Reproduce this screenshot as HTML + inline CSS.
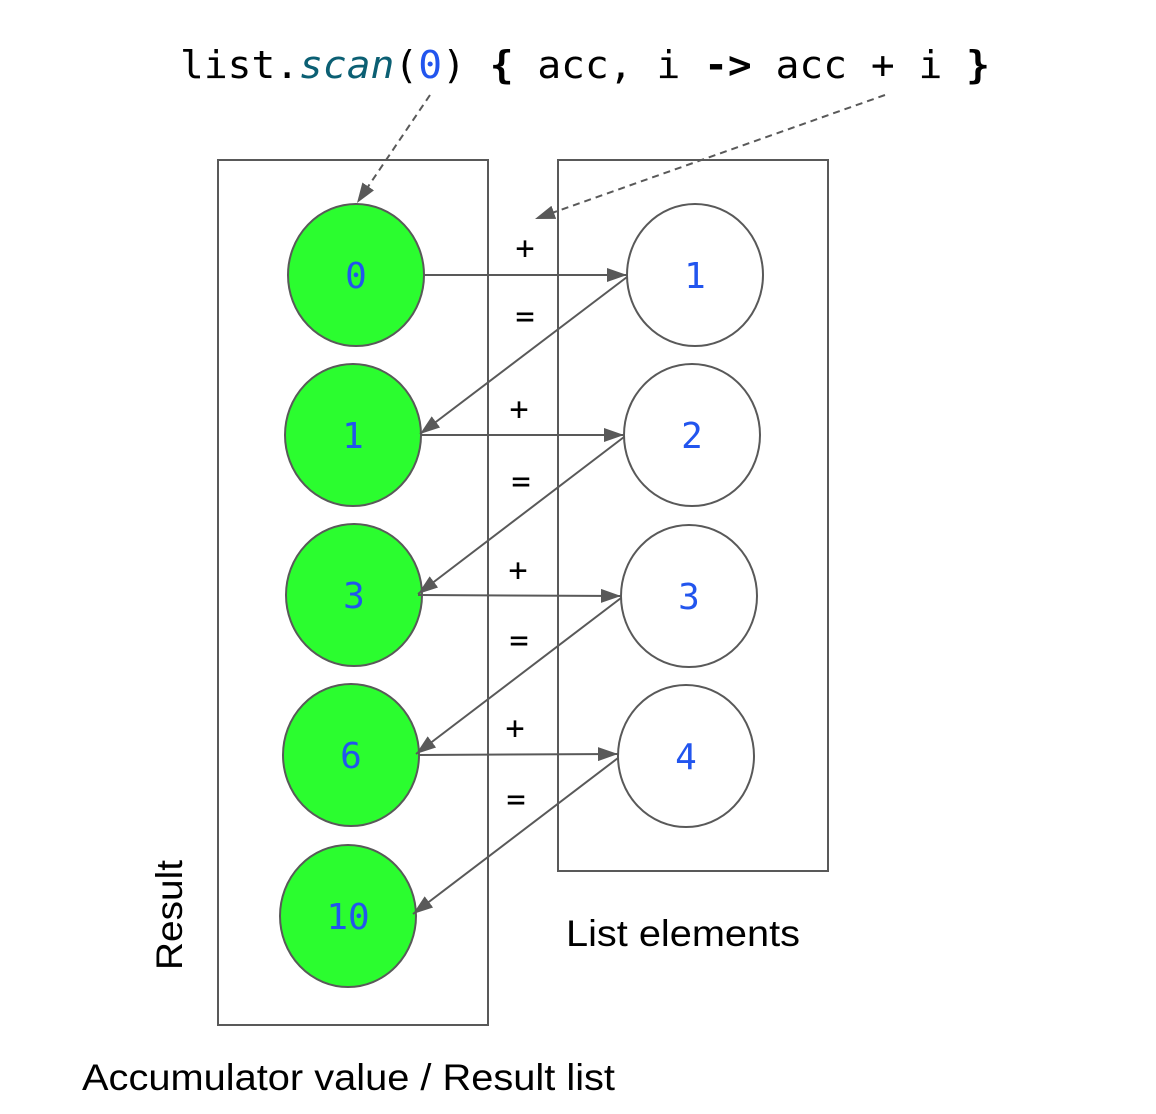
<!DOCTYPE html>
<html><head><meta charset="utf-8"><style>html,body{margin:0;padding:0;background:#fff}svg{display:block}</style></head>
<body>
<svg width="1156" height="1114" viewBox="0 0 1156 1114" xmlns="http://www.w3.org/2000/svg">
<defs>
<marker id="b" markerWidth="20" markerHeight="14" refX="20" refY="7" orient="auto" markerUnits="userSpaceOnUse" viewBox="0 0 20 14">
<path d="M0,0 L20,7 L0,14 z" fill="#595959"/>
</marker>
</defs>
<text x="180" y="78" font-family="DejaVu Sans Mono, monospace" font-size="38" textLength="810" lengthAdjust="spacingAndGlyphs" fill="#000">list.<tspan fill="#0b5f73" font-style="italic">scan</tspan>(<tspan fill="#2255ee">0</tspan>) <tspan font-weight="bold">{</tspan> acc, i <tspan font-weight="bold">-&gt;</tspan> acc + i <tspan font-weight="bold">}</tspan></text>
<rect x="218" y="160" width="270" height="865" fill="none" stroke="#595959" stroke-width="2"/>
<rect x="558" y="160" width="270" height="711" fill="none" stroke="#595959" stroke-width="2"/>
<g fill="#2bfd2f" stroke="#595959" stroke-width="2">
<ellipse cx="356" cy="275" rx="68" ry="71"/>
<ellipse cx="353" cy="435" rx="68" ry="71"/>
<ellipse cx="354" cy="595" rx="68" ry="71"/>
<ellipse cx="351" cy="755" rx="68" ry="71"/>
<ellipse cx="348" cy="916" rx="68" ry="71"/>
</g>
<g fill="#fff" stroke="#595959" stroke-width="2">
<ellipse cx="695" cy="275" rx="68" ry="71"/>
<ellipse cx="692" cy="435" rx="68" ry="71"/>
<ellipse cx="689" cy="596" rx="68" ry="71"/>
<ellipse cx="686" cy="756" rx="68" ry="71"/>
</g>
<g font-family="DejaVu Sans Mono, monospace" font-size="36" fill="#2255ee" text-anchor="middle">
<text x="356" y="288">0</text>
<text x="353" y="448">1</text>
<text x="354" y="608">3</text>
<text x="351" y="768">6</text>
<text x="348" y="929">10</text>
<text x="695" y="288">1</text>
<text x="692" y="448">2</text>
<text x="689" y="609">3</text>
<text x="686" y="769">4</text>
</g>
<g stroke="#595959" stroke-width="2" fill="none" marker-end="url(#b)">
<line x1="424" y1="275" x2="627" y2="275"/>
<line x1="627" y1="277" x2="420" y2="434"/>
<line x1="420" y1="435" x2="624" y2="435"/>
<line x1="624" y1="437" x2="418" y2="594"/>
<line x1="418" y1="595" x2="621" y2="596"/>
<line x1="621" y1="598" x2="416" y2="754"/>
<line x1="418" y1="755" x2="618" y2="754"/>
<line x1="618" y1="758" x2="413" y2="914"/>
<line x1="430" y1="95" x2="357" y2="203" stroke-dasharray="7,5"/>
<line x1="885" y1="95" x2="535" y2="219" stroke-dasharray="7,5"/>
</g>
<g font-family="DejaVu Sans Mono, monospace" font-size="32" fill="#000" text-anchor="middle">
<text x="525" y="259">+</text><text x="525" y="327">=</text>
<text x="519" y="420">+</text><text x="521" y="492">=</text>
<text x="518" y="581">+</text><text x="519" y="651">=</text>
<text x="515" y="739">+</text><text x="516" y="810">=</text>
</g>
<g font-family="Liberation Sans, Arial, sans-serif" font-size="37" fill="#000">
<text x="566" y="946" textLength="234" lengthAdjust="spacingAndGlyphs">List elements</text>
<text x="82" y="1090" textLength="533" lengthAdjust="spacingAndGlyphs">Accumulator value / Result list</text>
<text transform="translate(182,970) rotate(-90)" x="0" y="0" textLength="110" lengthAdjust="spacingAndGlyphs">Result</text>
</g>
</svg>
</body></html>
